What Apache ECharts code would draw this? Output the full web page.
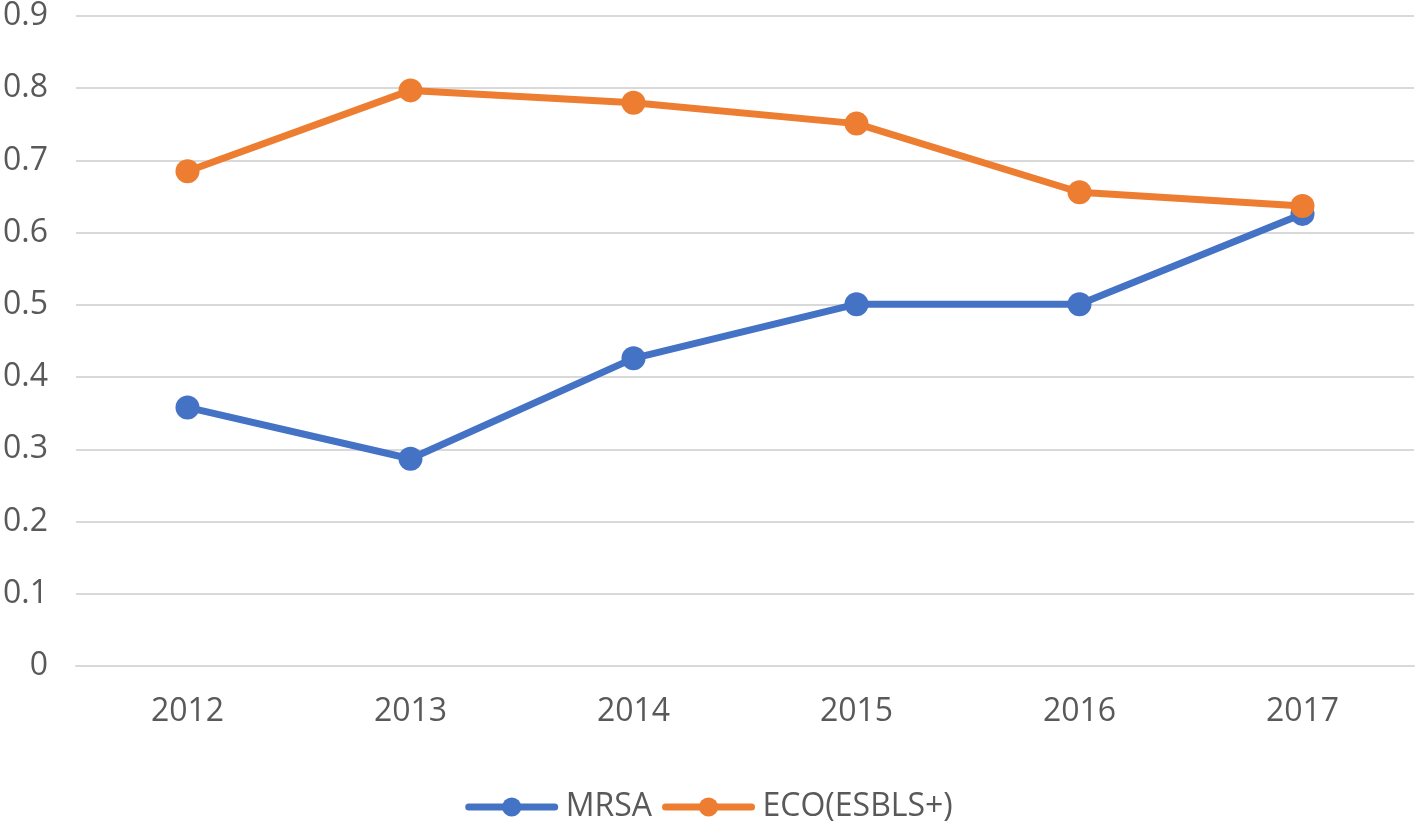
<!DOCTYPE html>
<html>
<head>
<meta charset="utf-8">
<script src="https://cdn.jsdelivr.net/npm/echarts@6/dist/echarts.min.js"></script>
<style>html,body{margin:0;padding:0;background:#fff}#c{width:1418px;height:822px}</style>
</head>
<body>
<div id="c"></div>
<script>
const categories = ['2012', '2013', '2014', '2015', '2016', '2017'];
const mrsa = [0.358, 0.287, 0.426, 0.501, 0.501, 0.626];
const eco = [0.685, 0.797, 0.780, 0.751, 0.656, 0.637];
const seriesNames = ['MRSA', 'ECO(ESBLS+)'];

const chart = echarts.init(document.getElementById('c'));
const font = '"Open Sans", "Noto Sans", sans-serif';
chart.setOption({
  animation: false,
  color: ['#4472C4', '#ED7D31'],
  grid: { left: 76, right: 4, top: 14, bottom: 156, containLabel: false },
  legend: {
    top: 786,
    left: 'center',
    itemWidth: 86,
    itemHeight: 24,
    itemGap: 10,
    lineStyle: { width: 7, cap: 'round' },
    textStyle: { fontFamily: font, fontSize: 32, color: '#595959', padding: [0, 0, 0, 6] },
    data: seriesNames
  },
  xAxis: {
    type: 'category',
    data: categories,
    boundaryGap: true,
    axisLine: { show: true, lineStyle: { color: '#d9d9d9', width: 2 } },
    axisTick: { show: false },
    axisLabel: { fontFamily: font, fontSize: 32, color: '#595959', margin: 30 }
  },
  yAxis: {
    type: 'value',
    min: 0,
    max: 0.9,
    interval: 0.1,
    axisLine: { show: false },
    axisTick: { show: false },
    splitLine: { lineStyle: { color: '#d9d9d9', width: 2 } },
    axisLabel: { fontFamily: font, fontSize: 32, color: '#595959', margin: 28,
      formatter: v => String(Math.round(v * 10) / 10) }
  },
  series: [
    { name: seriesNames[0], type: 'line', data: mrsa, symbol: 'circle', symbolSize: 24,
      lineStyle: { width: 7, cap: 'round' }, itemStyle: { color: '#4472C4' } },
    { name: seriesNames[1], type: 'line', data: eco, symbol: 'circle', symbolSize: 24,
      lineStyle: { width: 7, cap: 'round' }, itemStyle: { color: '#ED7D31' } }
  ]
});
</script>
</body>
</html>
